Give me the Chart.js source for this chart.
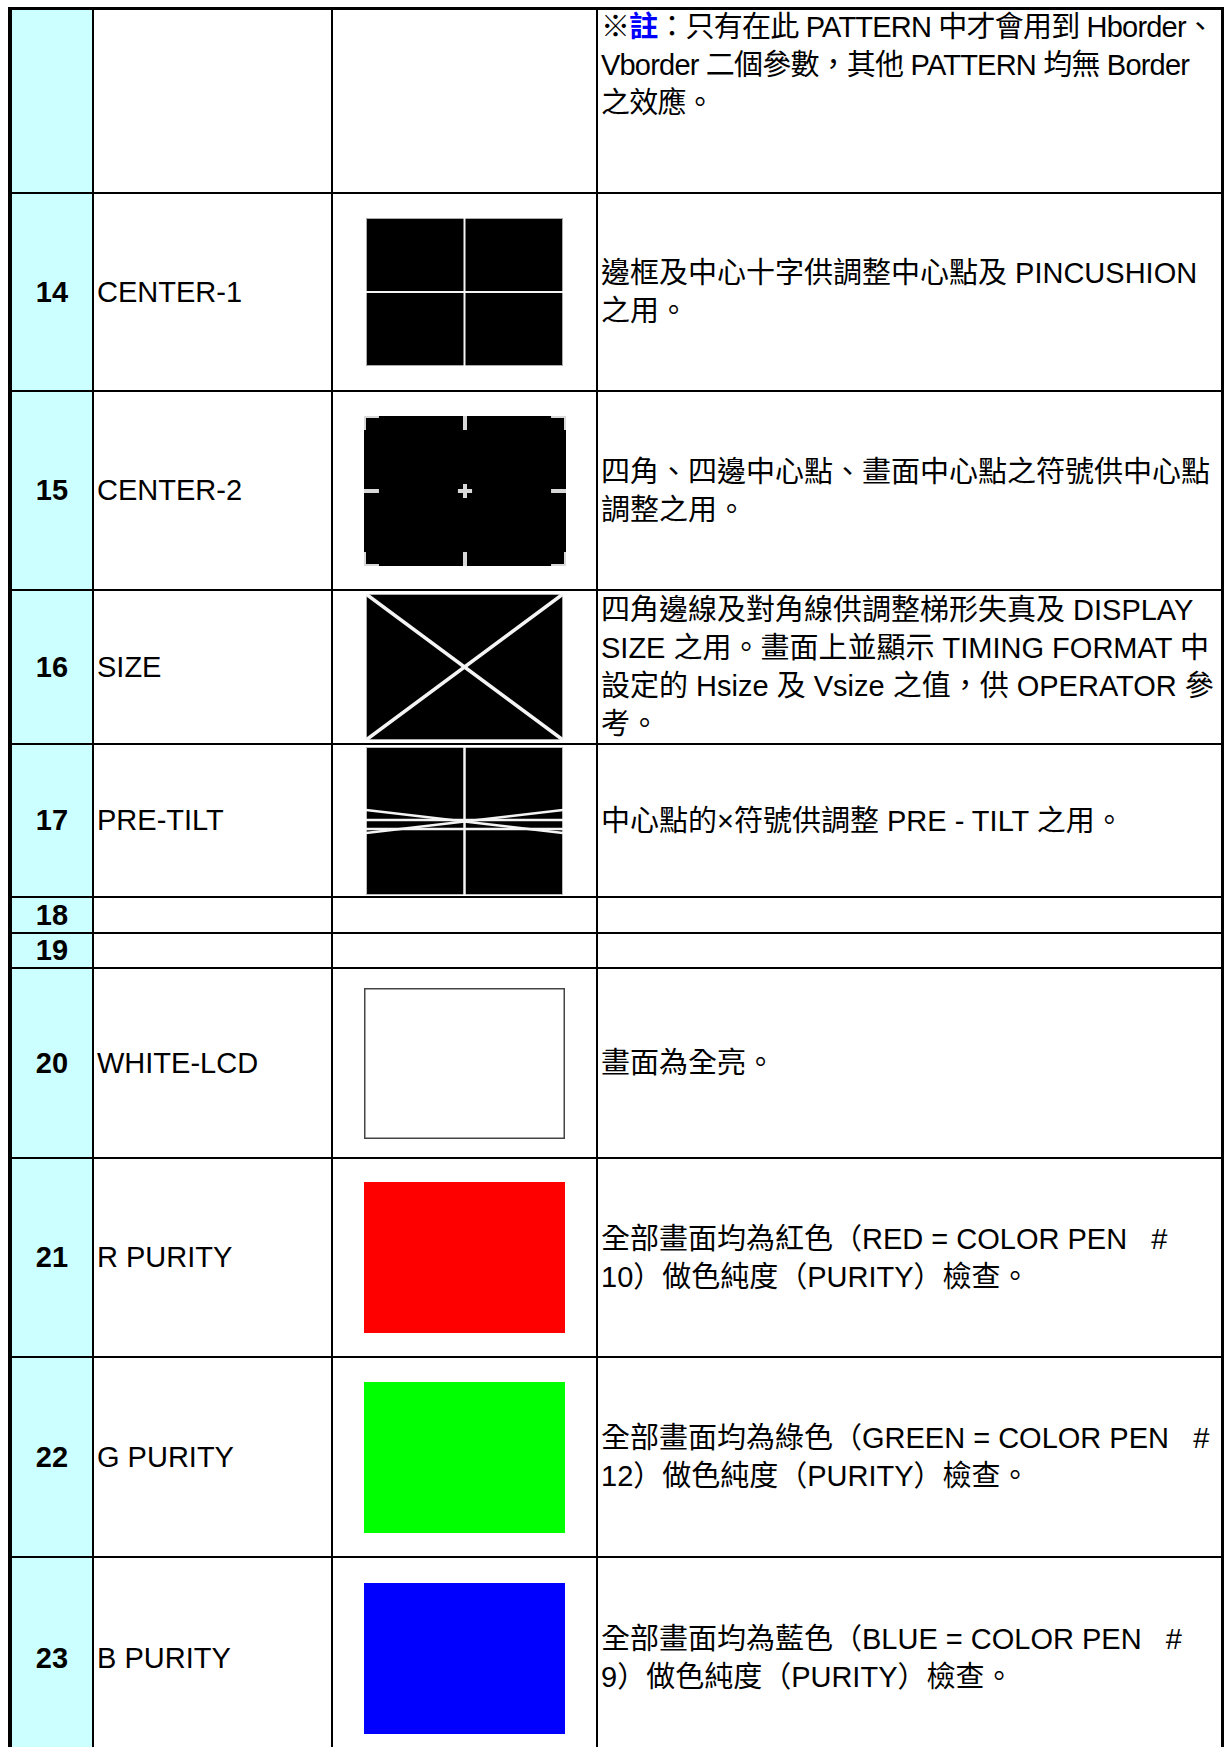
<!DOCTYPE html>
<html lang="zh-Hant">
<head>
<meta charset="UTF-8">
<title>Test Patterns 14-23</title>
<script src="https://cdn.jsdelivr.net/npm/chart.js"></script>
<style>
    html, body { margin: 0; padding: 0; background: #fff; }
    body {
        width: 1226px; height: 1747px; overflow: hidden; position: relative;
        font-family: "Liberation Sans", Arial, "Noto Sans CJK TC", sans-serif; color: #000;
    }
    #sheet {
        position: absolute; left: 8px; top: 7px; width: 1216px; box-sizing: border-box;
        display: grid;
        grid-template-columns: 80px 237px 263px 623px;
        grid-template-rows: 182px 196px 197px 152px 151px 34px 33px 188px 197px 198px 200px;
        gap: 2px;
        padding: 3px 3px 0 4px;
        background: #000;
    }
    .cell { background: #fff; overflow: hidden; }
    .num { background: #ccffff; font-weight: bold; font-size: 29px; display: flex; align-items: center; justify-content: center; }
    .name { font-size: 29px; display: flex; align-items: center; padding-left: 3px; white-space: pre; }
    .pic { display: flex; align-items: center; justify-content: center; overflow: visible; }
    .desc { font-size: 29px; display: flex; flex-direction: column; justify-content: center; padding-left: 3px; }
    .desc.top { justify-content: flex-start; letter-spacing: -0.8px; }
    .desc.top .ln:first-child { margin-top: -2px; }
    .ln { height: 38px; line-height: 38px; white-space: pre; }
    .note { color: #0000ff; font-weight: bold; }
</style>
</head>
<body>
<div id="sheet"></div>

<script>
// table contents, one entry per row (the first row is continued from the previous page)
const rowNumbers = ['', '14', '15', '16', '17', '18', '19', '20', '21', '22', '23'];
const patternNames = ['', 'CENTER-1', 'CENTER-2', 'SIZE', 'PRE-TILT', '', '', 'WHITE-LCD', 'R PURITY', 'G PURITY', 'B PURITY'];
const patternKinds = [null, 'center1', 'center2', 'size', 'pretilt', null, null, 'white', 'red', 'green', 'blue'];
const descriptions = [
    ['※註：只有在此 PATTERN 中才會用到 Hborder、', 'Vborder 二個參數，其他 PATTERN 均無 Border', '之效應。'],
    ['邊框及中心十字供調整中心點及 PINCUSHION', '之用。'],
    ['四角、四邊中心點、畫面中心點之符號供中心點', '調整之用。'],
    ['四角邊線及對角線供調整梯形失真及 DISPLAY', 'SIZE 之用。畫面上並顯示 TIMING FORMAT 中', '設定的 Hsize 及 Vsize 之值，供 OPERATOR 參', '考。'],
    ['中心點的×符號供調整 PRE - TILT 之用。'],
    [],
    [],
    ['畫面為全亮。'],
    ['全部畫面均為紅色（RED = COLOR PEN   #', '10）做色純度（PURITY）檢查。'],
    ['全部畫面均為綠色（GREEN = COLOR PEN   #', '12）做色純度（PURITY）檢查。'],
    ['全部畫面均為藍色（BLUE = COLOR PEN   #', '9）做色純度（PURITY）檢查。']
];
const noteMark = '註';

// test pattern contents, in percent of the picture (x rightwards, y downwards)
const fieldColors = { center1: '#000000', center2: '#000000', size: '#000000', pretilt: '#000000',
                      white: '#ffffff', red: '#ff0000', green: '#00ff00', blue: '#0000ff' };
const center1Lines = [
    [[50, 0], [50, 100]],
    [[0, 50], [100, 50]]
];
const center2Lines = [
    [[46.5, 50], [53.5, 50]], [[50, 45.3], [50, 54.7]],
    [[0, 50], [7.4, 50]], [[92.6, 50], [100, 50]],
    [[50, 0], [50, 9.3]], [[50, 90.7], [50, 100]],
    [[0, 9.3], [0, 0], [7.4, 0]], [[92.6, 0], [100, 0], [100, 9.3]],
    [[0, 90.7], [0, 100], [7.4, 100]], [[92.6, 100], [100, 100], [100, 90.7]]
];
const sizeLines = [
    [[0, 0], [100, 100]],
    [[0, 100], [100, 0]]
];
const preTiltLines = [
    [[50, 0], [50, 100]],
    [[0, 49.3], [100, 49.3]],
    [[0, 55.4], [100, 55.4]],
    [[0, 42.6], [100, 58.1]],
    [[0, 58.1], [100, 42.6]]
];
const frameOutline = [[0, 0], [100, 0], [100, 100], [0, 100], [0, 0]];

const patternLines = { center1: center1Lines, center2: center2Lines, size: sizeLines, pretilt: preTiltLines };
const lineWidths = { center1: 2, center2: 4, size: 3.5, pretilt: 2.5 };
const frameColors = { center1: '#aaaaaa', size: '#aaaaaa', pretilt: '#bbbbbb', white: '#444444' };
// picture sizes in px
const pictureSizes = {
    center1: [197, 148], center2: [202, 150], size: [197, 146], pretilt: [197, 148],
    white: [201, 151], red: [201, 151], green: [201, 151], blue: [201, 151]
};

function toPoints(seg) {
    return seg.map(p => ({ x: p[0], y: p[1] }));
}

function drawPattern(canvas, kind) {
    const datasets = [];
    // the screen field itself: top edge filled down to the bottom edge
    datasets.push({
        data: [{ x: 0, y: 0 }, { x: 100, y: 0 }],
        fill: { value: 100 },
        backgroundColor: fieldColors[kind],
        borderColor: fieldColors[kind],
        borderWidth: 1,
        order: 3
    });
    if (frameColors[kind]) {
        datasets.push({
            data: toPoints(frameOutline),
            borderColor: frameColors[kind],
            borderWidth: kind === 'white' ? 3 : 2,
            fill: false,
            order: 2
        });
    }
    (patternLines[kind] || []).forEach(seg => {
        datasets.push({
            data: toPoints(seg),
            borderColor: kind === 'center2' ? '#d8d8d8' : '#f4f4f4',
            borderWidth: lineWidths[kind],
            fill: false,
            order: 1
        });
    });

    new Chart(canvas, {
        type: 'line',
        data: { datasets: datasets },
        options: {
            responsive: false,
            animation: false,
            events: [],
            layout: { padding: 0 },
            elements: { point: { radius: 0 }, line: { tension: 0, borderCapStyle: 'butt' } },
            plugins: { legend: { display: false }, tooltip: { enabled: false } },
            scales: {
                x: { type: 'linear', min: 0, max: 100, display: false },
                y: { type: 'linear', min: 0, max: 100, reverse: true, display: false }
            }
        }
    });
}

const sheet = document.getElementById('sheet');

rowNumbers.forEach((num, i) => {
    const numCell = document.createElement('div');
    numCell.className = 'cell num';
    numCell.textContent = num;
    sheet.appendChild(numCell);

    const nameCell = document.createElement('div');
    nameCell.className = 'cell name';
    nameCell.textContent = patternNames[i];
    sheet.appendChild(nameCell);

    const picCell = document.createElement('div');
    picCell.className = 'cell pic';
    sheet.appendChild(picCell);
    const kind = patternKinds[i];
    if (kind) {
        const canvas = document.createElement('canvas');
        canvas.width = pictureSizes[kind][0];
        canvas.height = pictureSizes[kind][1];
        canvas.style.width = pictureSizes[kind][0] + 'px';
        canvas.style.height = pictureSizes[kind][1] + 'px';
        picCell.appendChild(canvas);
        drawPattern(canvas, kind);
    }

    const descCell = document.createElement('div');
    descCell.className = 'cell desc' + (i === 0 ? ' top' : '');
    descriptions[i].forEach(text => {
        const ln = document.createElement('div');
        ln.className = 'ln';
        const parts = text.split(noteMark);
        parts.forEach((part, k) => {
            ln.appendChild(document.createTextNode(part));
            if (k < parts.length - 1) {
                const mark = document.createElement('span');
                mark.className = 'note';
                mark.textContent = noteMark;
                ln.appendChild(mark);
            }
        });
        descCell.appendChild(ln);
    });
    sheet.appendChild(descCell);
});
</script>
</body>
</html>
